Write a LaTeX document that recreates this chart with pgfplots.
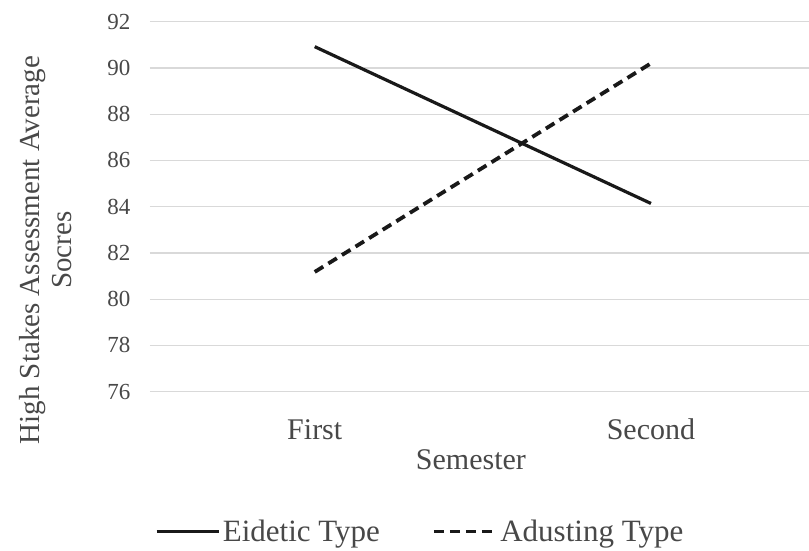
\documentclass[border=0pt]{standalone}
\usepackage{pgfplots}
\pgfplotsset{compat=1.18}
\usepackage{fontspec}
\setmainfont{Liberation Serif}
\definecolor{txt}{HTML}{484848}
\definecolor{grd}{HTML}{D9D9D9}
\begin{document}
\begin{tikzpicture}
\useasboundingbox (-150pt,-158.3pt) rectangle (659pt,391.7pt);
\begin{axis}[
  at={(0,0)}, anchor=south west,
  scale only axis, width=659pt, height=370pt,
  xmin=-0.49, xmax=1.47, ymin=76, ymax=92,
  ytick={76,78,...,92},
  xtick={0,1}, xticklabels={First,Second},
  axis line style={draw=none},
  major tick length=0pt,
  ymajorgrids, grid style={grd, line width=1.3pt},
  /pgf/number format/assume math mode=true,
  yticklabel style={font=\fontsize{23}{26}\selectfont, text=txt, xshift=-16pt},
  xticklabel style={font=\fontsize{30}{34}\selectfont, text=txt, anchor=base, yshift=-48pt},
  xlabel={Semester},
  xlabel style={font=\fontsize{30}{34}\selectfont, text=txt, at={(rel axis cs:0.487,0)}, anchor=base, yshift=-78pt},
  ylabel={High Stakes Assessment Average\\Socres},
  ylabel style={font=\fontsize{29}{32}\selectfont, text=txt, align=center, at={(rel axis cs:-0.158,0.383)}, anchor=center},
  legend style={at={(0.41,-0.378)}, anchor=center, draw=none, legend columns=2,
    font=\fontsize{31}{34}\selectfont, text=txt, inner sep=0pt,
    /tikz/every even column/.append style={column sep=50pt}},
  legend image code/.code={\draw[#1] (0cm,0cm) -- (2.2cm,0cm);},
]
\addplot[black!90, line width=3.2pt] coordinates {(0,90.92) (1,84.14)};
\addlegendentry{Eidetic Type}
\addplot[black!90, line width=3.8pt, dash pattern=on 10pt off 6pt] coordinates {(0,81.18) (1,90.2)};
\addlegendentry{Adusting Type}
\end{axis}
\end{tikzpicture}
\end{document}
